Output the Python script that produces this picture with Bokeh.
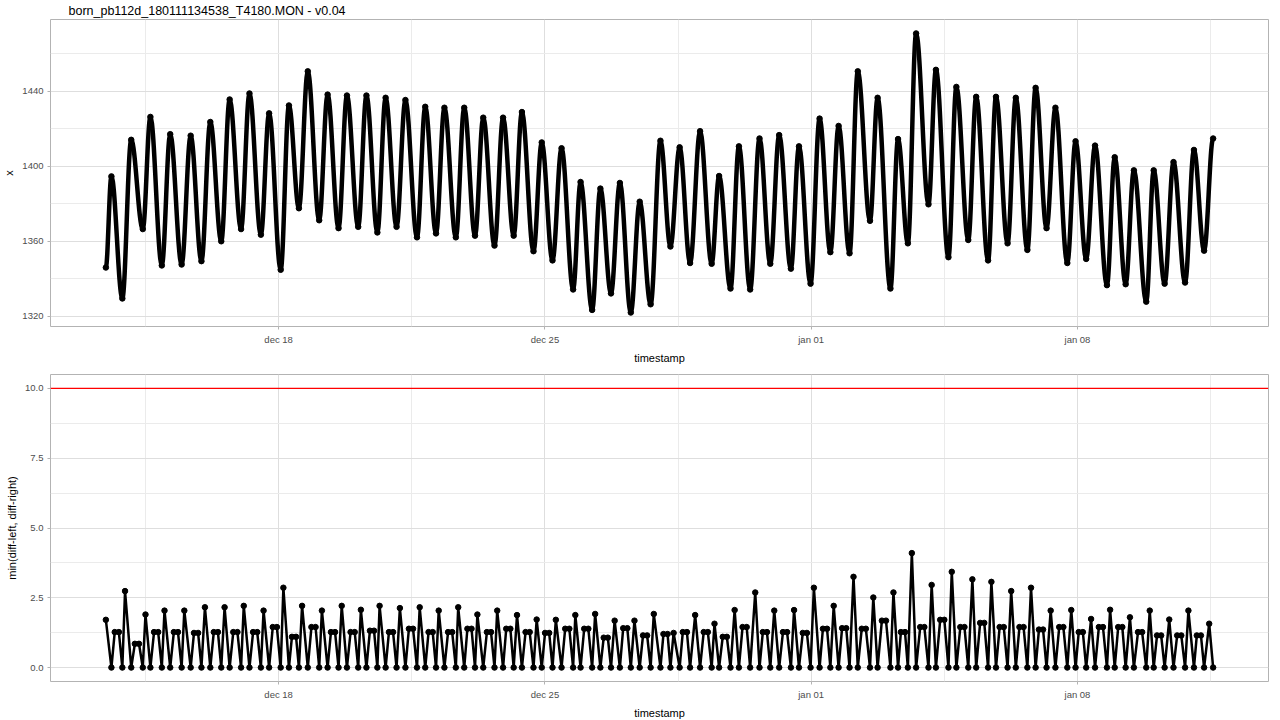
import numpy as np
import pandas as pd
from bokeh.plotting import figure
from bokeh.layouts import column
from bokeh.models import (Range1d, FixedTicker, CustomJSTickFormatter, Span,
                          PrintfTickFormatter)
from bokeh.embed import file_html
from bokeh.resources import INLINE

# ---------------- data ----------------
title_text = "born_pb112d_180111134538_T4180.MON - v0.04"
start_time = "2017-12-13 11:00"

# top panel: hours after start_time of the first point, every crest / trough, and the last point
x_hours = [0.0, 3.5, 10.4, 16.0, 23.3, 28.1, 35.3, 40.6, 47.8, 53.5, 60.3, 65.9, 72.8, 78.1,
           85.3, 90.6, 97.8, 103.0, 110.3, 115.5, 121.8, 127.4, 134.6, 139.9, 146.8, 152.1,
           159.2, 164.4, 171.3, 176.5, 183.4, 189.0, 196.3, 201.5, 208.3, 213.6, 220.8,
           226.1, 232.9, 238.1, 245.2, 250.6, 257.3, 262.5, 269.8, 275.0, 281.8, 287.5,
           294.8, 299.5, 306.8, 312.0, 318.7, 324.3, 331.2, 336.8, 343.7, 349.9, 356.2,
           362.0, 368.6, 374.9, 382.2, 386.9, 394.1, 399.4, 406.5, 412.4, 419.2, 424.8,
           432.2, 437.3, 444.6, 450.3, 457.1, 462.3, 469.2, 474.4, 482.1, 486.9, 495.0,
           499.8, 506.0, 511.2, 519.0, 523.7, 531.6, 536.6, 544.1, 549.1, 556.6, 561.6,
           568.9, 574.1, 581.4, 586.6, 593.5, 599.1, 606.6, 611.8, 618.5, 624.1, 631.6,
           636.5, 643.4, 648.6, 656.4, 661.1, 668.0, 673.6, 680.9, 686.5, 692.9, 698.6]
x_values = [1346.0, 1394.6, 1329.5, 1414.1, 1366.5, 1426.3, 1347.1, 1417.1, 1347.6, 1416.3,
            1349.4, 1423.6, 1360.0, 1435.6, 1366.5, 1438.8, 1363.5, 1428.2, 1344.8, 1432.4,
            1377.6, 1450.6, 1371.2, 1438.2, 1367.0, 1437.7, 1367.7, 1437.7, 1364.7, 1436.5,
            1367.7, 1435.3, 1362.1, 1431.7, 1364.2, 1431.2, 1362.1, 1431.2, 1363.0, 1425.9,
            1357.7, 1425.9, 1363.0, 1428.9, 1354.7, 1412.7, 1349.8, 1409.6, 1334.3, 1391.6,
            1323.4, 1388.1, 1332.2, 1391.1, 1322.0, 1381.1, 1326.4, 1413.6, 1357.2, 1410.1,
            1348.4, 1418.7, 1348.0, 1394.8, 1334.8, 1410.6, 1334.3, 1414.8, 1348.0, 1416.6,
            1345.4, 1410.6, 1337.4, 1425.4, 1354.2, 1421.5, 1353.6, 1450.6, 1370.9, 1436.5,
            1334.8, 1414.5, 1358.9, 1470.8, 1379.7, 1451.4, 1351.5, 1442.3, 1360.7, 1437.0,
            1349.8, 1437.0, 1358.9, 1436.5, 1355.4, 1441.8, 1367.0, 1431.2, 1348.4, 1413.3,
            1350.6, 1411.0, 1336.6, 1404.8, 1337.1, 1397.8, 1327.8, 1397.8, 1337.4, 1402.2,
            1338.0, 1408.7, 1355.0, 1414.8]

# bottom panel: min(diff-left, diff-right); per cycle: crest low, falling-slope plateau (2 pts),
# trough low, rising-slope spike
diff_hours = [0.0,
              3.5, 5.6, 8.2, 10.4, 12.1,
              16.0, 18.3, 20.9, 23.3, 25.0,
              28.1, 30.4, 33.0, 35.3, 37.0,
              40.6, 42.9, 45.5, 47.8, 49.5,
              53.5, 55.6, 58.2, 60.3, 62.5,
              65.9, 68.1, 70.7, 72.8, 74.9,
              78.1, 80.4, 83.0, 85.3, 87.0,
              90.6, 92.9, 95.5, 97.8, 99.5,
              103.0, 105.3, 107.9, 110.3, 112.0,
              115.5, 117.4, 120.0, 121.8, 123.8,
              127.4, 129.7, 132.3, 134.6, 136.3,
              139.9, 142.0, 144.6, 146.8, 148.8,
              152.1, 154.4, 157.0, 159.2, 160.9,
              164.4, 166.6, 169.2, 171.3, 172.7,
              176.5, 178.6, 181.2, 183.4, 185.5,
              189.0, 191.2, 193.8, 196.3, 198.0,
              201.5, 203.6, 206.2, 208.3, 210.0,
              213.6, 215.9, 218.5, 220.8, 222.3,
              226.1, 228.1, 230.7, 232.9, 234.4,
              238.1, 240.4, 243.0, 245.2, 246.9,
              250.6, 252.6, 255.2, 257.3, 259.4,
              262.5, 264.8, 267.4, 269.8, 271.8,
              275.0, 277.1, 279.7, 281.8, 283.9,
              287.5, 289.8, 292.4, 294.8, 296.2,
              299.5, 301.8, 304.4, 306.8, 308.7,
              312.0, 314.1, 316.7, 318.7, 321.0,
              324.3, 326.4, 329.0, 331.2, 333.5,
              336.8, 338.9, 341.5, 343.7, 345.7,
              349.9, 351.8, 354.4, 356.2, 358.2,
              362.0, 364.0, 366.6, 368.6, 371.8,
              374.9, 377.2, 379.8, 382.2, 384.0,
              386.9, 389.2, 391.8, 394.1, 396.7,
              399.4, 401.7, 404.3, 406.5, 409.7,
              412.4, 414.5, 417.1, 419.2, 421.7,
              424.8, 427.2, 429.8, 432.2, 434.2,
              437.3, 439.7, 442.3, 444.6, 446.7,
              450.3, 452.4, 455.0, 457.1, 459.2,
              462.3, 464.5, 467.1, 469.2, 471.7,
              474.4, 476.9, 479.5, 482.1, 484.2,
              486.9, 489.6, 492.2, 495.0, 496.9,
              499.8, 501.6, 504.2, 506.0, 508.5,
              511.2, 513.8, 516.4, 519.0, 521.0,
              523.7, 526.4, 529.0, 531.6, 533.7,
              536.6, 539.1, 541.7, 544.1, 546.7,
              549.1, 551.6, 554.2, 556.6, 558.7,
              561.6, 563.9, 566.5, 568.9, 571.2,
              574.1, 576.4, 579.0, 581.4, 583.7,
              586.6, 588.7, 591.3, 593.5, 596.1,
              599.1, 601.5, 604.1, 606.6, 609.1,
              611.8, 613.8, 616.4, 618.5, 621.6,
              624.1, 626.5, 629.1, 631.6, 633.6,
              636.5, 638.7, 641.3, 643.4, 646.1,
              648.6, 651.2, 653.8, 656.4, 658.6,
              661.1, 663.2, 665.8, 668.0, 670.9,
              673.6, 675.9, 678.5, 680.9, 683.0,
              686.5, 688.3, 690.9, 692.9, 696.1,
              698.6]
diff_values = [1.71,
               0.0, 1.27, 1.27, 0.0, 2.74,
               0.0, 0.85, 0.85, 0.0, 1.90,
               0.0, 1.27, 1.27, 0.0, 2.04,
               0.0, 1.27, 1.27, 0.0, 2.04,
               0.0, 1.24, 1.24, 0.0, 2.16,
               0.0, 1.27, 1.27, 0.0, 2.16,
               0.0, 1.27, 1.27, 0.0, 2.21,
               0.0, 1.27, 1.27, 0.0, 2.04,
               0.0, 1.45, 1.45, 0.0, 2.86,
               0.0, 1.10, 1.10, 0.0, 2.21,
               0.0, 1.45, 1.45, 0.0, 2.04,
               0.0, 1.27, 1.27, 0.0, 2.21,
               0.0, 1.27, 1.27, 0.0, 2.07,
               0.0, 1.32, 1.32, 0.0, 2.21,
               0.0, 1.27, 1.27, 0.0, 2.13,
               0.0, 1.39, 1.39, 0.0, 2.16,
               0.0, 1.27, 1.27, 0.0, 2.04,
               0.0, 1.27, 1.27, 0.0, 2.16,
               0.0, 1.39, 1.39, 0.0, 1.90,
               0.0, 1.27, 1.27, 0.0, 2.04,
               0.0, 1.39, 1.39, 0.0, 1.88,
               0.0, 1.27, 1.27, 0.0, 1.72,
               0.0, 1.24, 1.24, 0.0, 1.71,
               0.0, 1.39, 1.39, 0.0, 1.88,
               0.0, 1.39, 1.39, 0.0, 1.92,
               0.0, 1.07, 1.07, 0.0, 1.68,
               0.0, 1.41, 1.41, 0.0, 1.68,
               0.0, 1.15, 1.15, 0.0, 1.92,
               0.0, 1.20, 1.20, 0.0, 1.24,
               0.0, 1.27, 1.27, 0.0, 1.88,
               0.0, 1.27, 1.27, 0.0, 1.57,
               0.0, 1.10, 1.10, 0.0, 2.06,
               0.0, 1.45, 1.45, 0.0, 2.69,
               0.0, 1.27, 1.27, 0.0, 2.04,
               0.0, 1.27, 1.27, 0.0, 2.06,
               0.0, 1.24, 1.24, 0.0, 2.86,
               0.0, 1.39, 1.39, 0.0, 2.21,
               0.0, 1.41, 1.41, 0.0, 3.25,
               0.0, 1.39, 1.39, 0.0, 2.51,
               0.0, 1.68, 1.68, 0.0, 2.69,
               0.0, 1.27, 1.27, 0.0, 4.10,
               0.0, 1.45, 1.45, 0.0, 2.96,
               0.0, 1.71, 1.71, 0.0, 3.43,
               0.0, 1.45, 1.45, 0.0, 3.16,
               0.0, 1.60, 1.60, 0.0, 3.07,
               0.0, 1.45, 1.45, 0.0, 2.74,
               0.0, 1.45, 1.45, 0.0, 2.86,
               0.0, 1.36, 1.36, 0.0, 2.04,
               0.0, 1.45, 1.45, 0.0, 2.06,
               0.0, 1.27, 1.27, 0.0, 1.74,
               0.0, 1.45, 1.45, 0.0, 2.07,
               0.0, 1.45, 1.45, 0.0, 1.80,
               0.0, 1.27, 1.27, 0.0, 2.04,
               0.0, 1.15, 1.15, 0.0, 1.72,
               0.0, 1.15, 1.15, 0.0, 2.04,
               0.0, 1.15, 1.15, 0.0, 1.57,
               0.0]
threshold = 10.0

x_tick_dates = ["2017-12-18", "2017-12-25", "2018-01-01", "2018-01-08"]
x_minor_dates = ["2017-12-14 12:00", "2017-12-21 12:00", "2017-12-28 12:00",
                 "2018-01-04 12:00", "2018-01-11 12:00"]
top_y_ticks = [1320, 1360, 1400, 1440]
top_y_minor = [1340, 1380, 1420, 1460]
bot_y_ticks = [0.0, 2.5, 5.0, 7.5, 10.0]
bot_y_minor = [1.25, 3.75, 6.25, 8.75]
top_ylabel = "x"
bot_ylabel = "min(diff-left, diff-right)"
xlabel = "timestamp"

# ---------------- build ----------------
def to_ms(s):
    return pd.Timestamp(s).value / 1e6

t0 = to_ms(start_time)
tx = t0 + np.array(x_hours) * 3600e3
vx = np.array(x_values)
td = t0 + np.array(diff_hours) * 3600e3
vd = np.array(diff_values)

span_t = tx.max() - tx.min()
x_range = Range1d(tx.min() - 0.05 * span_t, tx.max() + 0.05 * span_t)
span_v = vx.max() - vx.min()
top_range = Range1d(vx.min() - 0.05 * span_v, vx.max() + 0.05 * span_v)
blo, bhi = min(vd.min(), 0.0), max(vd.max(), threshold)
bot_range = Range1d(blo - 0.05 * (bhi - blo), bhi + 0.05 * (bhi - blo))

FONT = "Liberation Sans"
month_js = """
const m = ["jan","feb","mrt","apr","mei","jun","jul","aug","sep","okt","nov","dec"];
const d = new Date(tick);
const day = d.getUTCDate();
return m[d.getUTCMonth()] + " " + (day < 10 ? "0" + day : String(day));
"""


def make_fig(y_range, title=None):
    p = figure(x_axis_type="datetime", x_range=x_range, y_range=y_range,
               frame_width=1218, frame_height=307, output_backend="svg",
               toolbar_location=None, min_border_left=44, min_border_right=4,
               min_border_top=4, min_border_bottom=2, background_fill_color="white",
               border_fill_color="white")
    p.outline_line_color = "#B3B3B3"
    p.outline_line_width = 1
    for ax in p.axis:
        ax.axis_line_color = None
        ax.major_tick_line_color = "#B3B3B3"
        ax.major_tick_out = 3
        ax.major_tick_in = 0
        ax.minor_tick_line_color = None
        ax.major_label_text_color = "#4D4D4D"
        ax.major_label_text_font = FONT
        ax.major_label_text_font_size = "9.5px"
        ax.major_label_standoff = 3
        ax.axis_label_text_font = FONT
        ax.axis_label_text_font_size = "11px"
        ax.axis_label_text_font_style = "normal"
        ax.axis_label_text_color = "black"
        ax.axis_label_standoff = 4
    for g in (p.xgrid, p.ygrid):
        g.grid_line_color = "#DEDEDE"
        g.grid_line_width = 1
        g.minor_grid_line_color = "#EBEBEB"
        g.minor_grid_line_width = 1
    p.xaxis.ticker = FixedTicker(ticks=[to_ms(d) for d in x_tick_dates],
                                 minor_ticks=[to_ms(d) for d in x_minor_dates])
    p.xaxis.formatter = CustomJSTickFormatter(code=month_js)
    p.xaxis.axis_label = xlabel
    if title:
        p.title.text = title
        p.title.text_font = FONT
        p.title.text_font_size = "12.5px"
        p.title.text_font_style = "normal"
        p.title.text_color = "black"
        p.title.align = "left"
        p.title.offset = 18
        p.title.standoff = 3
    return p


p1 = make_fig(top_range, title_text)
p1.yaxis.ticker = FixedTicker(ticks=top_y_ticks, minor_ticks=top_y_minor)
p1.yaxis.axis_label = top_ylabel

# smooth connection between successive read points (horizontal tangents at crests/troughs)
k = 0.3642
dt = tx[1:] - tx[:-1]
p1.bezier(x0=tx[:-1], y0=vx[:-1], x1=tx[1:], y1=vx[1:],
          cx0=tx[:-1] + k * dt, cy0=vx[:-1], cx1=tx[1:] - k * dt, cy1=vx[1:],
          line_color="black", line_width=4.5, line_cap="round")
p1.scatter(tx, vx, size=5.5, color="black")

p2 = make_fig(bot_range)
p2.yaxis.ticker = FixedTicker(ticks=bot_y_ticks, minor_ticks=bot_y_minor)
p2.yaxis.formatter = PrintfTickFormatter(format="%.1f")
p2.yaxis.axis_label = bot_ylabel
p2.min_border_top = 8
p2.line(td, vd, line_color="black", line_width=2.5, line_join="round")
p2.scatter(td, vd, size=5.5, color="black")
p2.add_layout(Span(location=threshold, dimension="width", line_color="#FF0000",
                   line_width=1.3, level="overlay"))

layout = column(p1, p2, spacing=0)
open("out.html", "w").write(file_html(layout, INLINE))
